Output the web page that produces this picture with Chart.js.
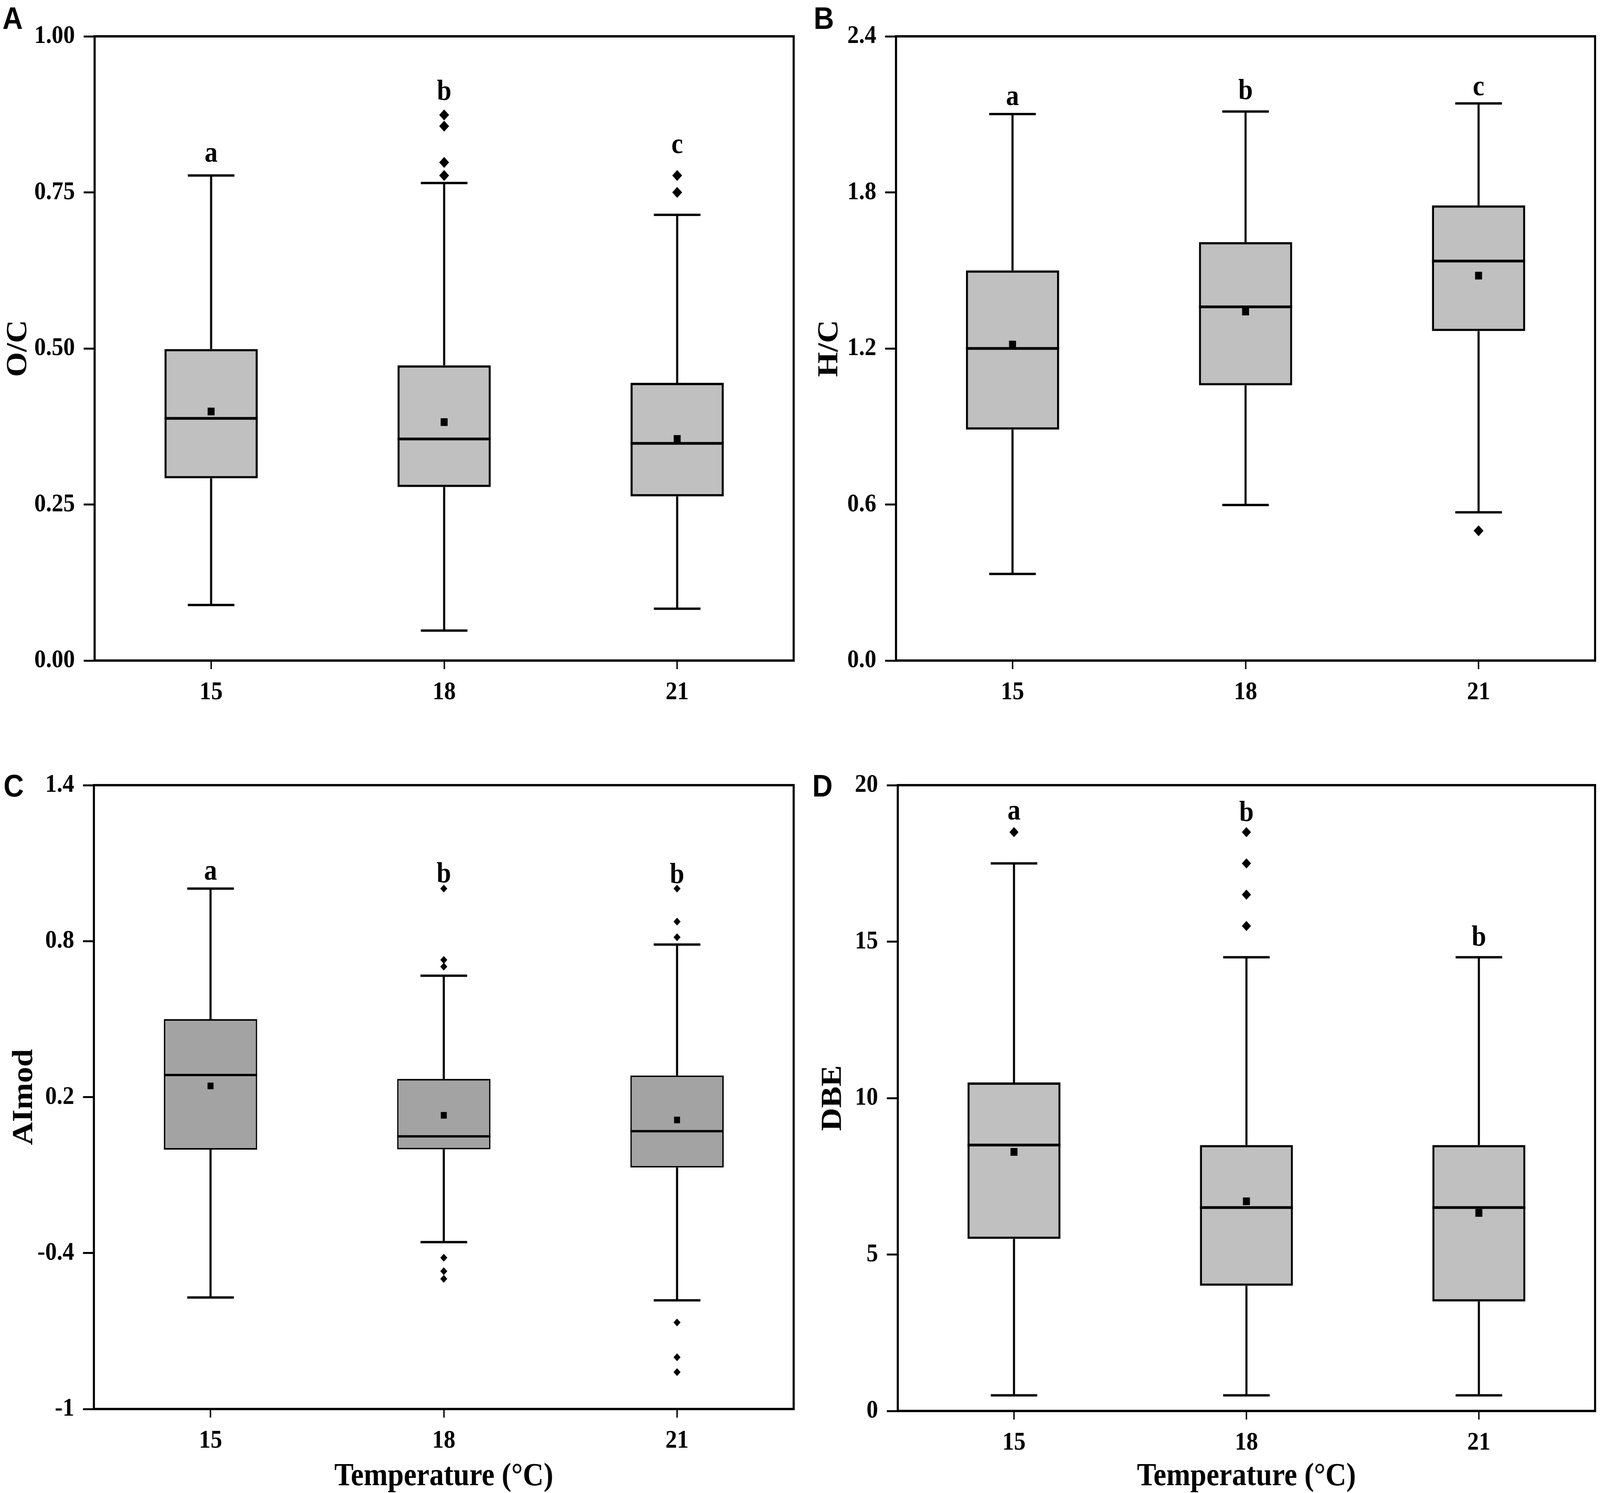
<!DOCTYPE html>
<html>
<head>
<meta charset="utf-8">
<script src="https://cdn.jsdelivr.net/npm/chart.js@4.4.1/dist/chart.umd.min.js"></script>
<style>
  html, body { margin: 0; padding: 0; background: #fff; overflow: hidden; }
  #page { position: relative; width: 4550px; height: 3822px; overflow: hidden; background: #fff; transform-origin: 0 0; }
  #page canvas { position: absolute; }
  .tag { position: absolute; font: bold 80px "Liberation Sans", Arial, sans-serif; line-height: 80px; color: #000; }
</style>
</head>
<body>
<div id="page">
  <canvas id="chartA" width="2275" height="1911" style="left:0px;top:0px;width:2275px;height:1911px"></canvas>
  <canvas id="chartB" width="2275" height="1911" style="left:2275px;top:0px;width:2275px;height:1911px"></canvas>
  <canvas id="chartC" width="2275" height="1911" style="left:0px;top:1911px;width:2275px;height:1911px"></canvas>
  <canvas id="chartD" width="2275" height="1911" style="left:2275px;top:1911px;width:2275px;height:1911px"></canvas>
  <div class="tag" style="left:7px;top:7px">A</div>
  <div class="tag" style="left:2314px;top:7px">B</div>
  <div class="tag" style="left:10px;top:1972px">C</div>
  <div class="tag" style="left:2310px;top:1972px">D</div>
</div>
<script>
const temps = ['15', '18', '21'];

// O/C
const ocLow = [0.089, 0.048, 0.083];
const ocQ1 = [0.292, 0.278, 0.263];
const ocMedian = [0.388, 0.355, 0.348];
const ocQ3 = [0.499, 0.473, 0.445];
const ocHigh = [0.777, 0.765, 0.714];
const ocMean = [0.399, 0.382, 0.355];
const ocOutliers = [[], [0.874, 0.856, 0.798, 0.777], [0.777, 0.750]];
const ocLetters = ['a', 'b', 'c'];
const ocLetterY = [0.799, 0.898, 0.813];
const ocTicks = [0, 0.25, 0.5, 0.75, 1.0];
const ocTickLabels = ['0.00', '0.25', '0.50', '0.75', '1.00'];

// H/C
const hcLow = [0.333, 0.598, 0.570];
const hcQ1 = [0.888, 1.058, 1.267];
const hcMedian = [1.200, 1.360, 1.536];
const hcQ3 = [1.500, 1.609, 1.750];
const hcHigh = [2.101, 2.111, 2.142];
const hcMean = [1.215, 1.342, 1.480];
const hcOutliers = [[], [], [0.499]];
const hcLetters = ['a', 'b', 'c'];
const hcLetterY = [2.136, 2.158, 2.173];
const hcTicks = [0, 0.6, 1.2, 1.8, 2.4];
const hcTickLabels = ['0.0', '0.6', '1.2', '1.8', '2.4'];

// AImod
const aiLow = [-0.571, -0.358, -0.582];
const aiQ1 = [-0.002, -0.001, -0.071];
const aiMedian = [0.285, 0.049, 0.069];
const aiQ3 = [0.500, 0.270, 0.283];
const aiHigh = [1.002, 0.667, 0.787];
const aiMean = [0.243, 0.130, 0.112];
const aiOutliers = [[], [1.002, 0.728, 0.702, -0.418, -0.470, -0.499], [1.002, 0.875, 0.815, -0.667, -0.801, -0.858]];
const aiLetters = ['a', 'b', 'b'];
const aiLetterY = [1.036, 1.026, 1.023];
const aiTicks = [-1, -0.4, 0.2, 0.8, 1.4];
const aiTickLabels = ['-1', '-0.4', '0.2', '0.8', '1.4'];

// DBE
const dbeLow = [0.5, 0.5, 0.5];
const dbeQ1 = [5.5, 4.0, 3.5];
const dbeMedian = [8.5, 6.5, 6.5];
const dbeQ3 = [10.5, 8.5, 8.5];
const dbeHigh = [17.5, 14.5, 14.5];
const dbeMean = [8.28, 6.70, 6.33];
const dbeOutliers = [[18.5], [18.5, 17.5, 16.5, 15.5], []];
const dbeLetters = ['a', 'b', 'b'];
const dbeLetterY = [18.9, 18.85, 14.87];
const dbeTicks = [0, 5, 10, 15, 20];
const dbeTickLabels = ['0', '5', '10', '15', '20'];

const serif = '"Liberation Serif", "Times New Roman", serif';

// the page is laid out at 4550x3822; stretch it onto whatever the window really is
const sx = window.innerWidth / 4550;
const sy = window.innerHeight / 3822;
document.getElementById('page').style.transform = 'scale(' + sx + ',' + sy + ')';

// whiskers, caps, medians, letters and the frame
function boxExtras(p) {
    return {
        id: 'boxExtras',
        afterDatasetsDraw(chart) {
            const ctx = chart.ctx;
            const x = chart.scales.x;
            const y = chart.scales.y;
            const catW = x.getPixelForValue(1) - x.getPixelForValue(0);
            const boxHalf = catW * 0.2;
            const capHalf = catW * 0.1;
            ctx.save();
            ctx.strokeStyle = '#000';
            ctx.lineCap = 'butt';
            temps.forEach(function (t, i) {
                const cx = x.getPixelForValue(i);
                ctx.lineWidth = 6;
                ctx.beginPath();
                ctx.moveTo(cx, y.getPixelForValue(p.q3[i]));
                ctx.lineTo(cx, y.getPixelForValue(p.high[i]));
                ctx.moveTo(cx, y.getPixelForValue(p.q1[i]));
                ctx.lineTo(cx, y.getPixelForValue(p.low[i]));
                ctx.moveTo(cx - capHalf, y.getPixelForValue(p.high[i]));
                ctx.lineTo(cx + capHalf, y.getPixelForValue(p.high[i]));
                ctx.moveTo(cx - capHalf, y.getPixelForValue(p.low[i]));
                ctx.lineTo(cx + capHalf, y.getPixelForValue(p.low[i]));
                ctx.stroke();

                ctx.lineWidth = p.medianLine;
                ctx.beginPath();
                ctx.moveTo(cx - boxHalf, y.getPixelForValue(p.median[i]));
                ctx.lineTo(cx + boxHalf, y.getPixelForValue(p.median[i]));
                ctx.stroke();

                ctx.fillStyle = '#000';
                ctx.font = 'bold 74px ' + serif;
                ctx.textAlign = 'center';
                ctx.textBaseline = 'alphabetic';
                ctx.fillText(p.letters[i], cx, y.getPixelForValue(p.letterY[i]));
            });
            ctx.restore();
        },
        afterDraw(chart) {
            const a = chart.chartArea;
            const ctx = chart.ctx;
            ctx.save();
            ctx.strokeStyle = '#000';
            ctx.lineWidth = 6;
            ctx.strokeRect(a.left, a.top, a.right - a.left, a.bottom - a.top);
            ctx.restore();
        }
    };
}

function makeBoxChart(id, p) {
    const outlierPoints = temps.flatMap(function (t, i) {
        return p.outliers[i].map(function (v) { return { x: t, y: v }; });
    });

    return new Chart(document.getElementById(id), {
        type: 'bar',
        data: {
            labels: temps,
            datasets: [
                {
                    data: p.q1.map(function (v, i) { return [v, p.q3[i]]; }),
                    backgroundColor: p.fill,
                    borderColor: '#000',
                    borderWidth: p.boxLine,
                    borderSkipped: false,
                    barPercentage: 0.4,
                    categoryPercentage: 1,
                    order: 3
                },
                {
                    type: 'line',
                    data: p.mean,
                    showLine: false,
                    pointStyle: 'rect',
                    pointRadius: p.meanR,
                    pointBackgroundColor: '#000',
                    pointBorderWidth: 0,
                    order: 1
                },
                {
                    type: 'line',
                    data: outlierPoints,
                    showLine: false,
                    pointStyle: 'rectRot',
                    pointRadius: p.outR,
                    pointBackgroundColor: '#000',
                    pointBorderWidth: 0,
                    order: 2
                }
            ]
        },
        options: {
            responsive: false,
            animation: false,
            events: [],
            layout: { padding: { left: 0, top: p.top, right: p.right, bottom: 0 } },
            plugins: {
                legend: { display: false },
                tooltip: { enabled: false }
            },
            scales: {
                x: {
                    offset: true,
                    grid: {
                        display: true,
                        drawOnChartArea: false,
                        drawTicks: true,
                        offset: false,
                        tickLength: 22,
                        tickWidth: 4,
                        color: '#000'
                    },
                    border: { display: false },
                    ticks: {
                        color: '#000',
                        maxRotation: 0,
                        padding: 20,
                        font: { family: serif, size: 66, weight: 'bold' }
                    },
                    title: {
                        display: p.xTitle,
                        text: 'Temperature (°C)',
                        color: '#000',
                        padding: { top: 0, bottom: 0 },
                        font: { family: serif, size: 82, weight: 'bold', lineHeight: 1 }
                    },
                    afterFit: function (s) { s.height = p.xHeight; }
                },
                y: {
                    min: p.ticks[0],
                    max: p.ticks[p.ticks.length - 1],
                    afterBuildTicks: function (s) {
                        s.ticks = p.ticks.map(function (v) { return { value: v }; });
                    },
                    grid: {
                        display: true,
                        drawOnChartArea: false,
                        drawTicks: true,
                        tickLength: 31,
                        tickWidth: 5,
                        color: '#000'
                    },
                    border: { display: false },
                    ticks: {
                        color: '#000',
                        padding: 25,
                        font: { family: serif, size: 66, weight: 'bold' },
                        callback: function (value, index) { return p.tickLabels[index]; }
                    },
                    title: {
                        display: true,
                        text: p.yTitle,
                        color: '#000',
                        padding: { top: p.yTitlePad, bottom: 0 },
                        font: { family: serif, size: 82, weight: 'bold', lineHeight: 1 }
                    },
                    afterFit: function (s) { s.width = p.yWidth; }
                }
            }
        },
        plugins: [boxExtras(p)]
    });
}

makeBoxChart('chartA', {
    low: ocLow, q1: ocQ1, median: ocMedian, q3: ocQ3, high: ocHigh, mean: ocMean,
    outliers: ocOutliers, letters: ocLetters, letterY: ocLetterY,
    ticks: ocTicks, tickLabels: ocTickLabels, yTitle: 'O/C', xTitle: false,
    fill: '#c0c0c0', boxLine: 6, medianLine: 7, meanR: 14, outR: 14,
    top: 93, right: 18, yWidth: 269, xHeight: 220, yTitlePad: 12
});

makeBoxChart('chartB', {
    low: hcLow, q1: hcQ1, median: hcMedian, q3: hcQ3, high: hcHigh, mean: hcMean,
    outliers: hcOutliers, letters: hcLetters, letterY: hcLetterY,
    ticks: hcTicks, tickLabels: hcTickLabels, yTitle: 'H/C', xTitle: false,
    fill: '#c0c0c0', boxLine: 6, medianLine: 7, meanR: 14, outR: 14,
    top: 93, right: 13, yWidth: 273, xHeight: 220, yTitlePad: 44
});

makeBoxChart('chartC', {
    low: aiLow, q1: aiQ1, median: aiMedian, q3: aiQ3, high: aiHigh, mean: aiMean,
    outliers: aiOutliers, letters: aiLetters, letterY: aiLetterY,
    ticks: aiTicks, tickLabels: aiTickLabels, yTitle: 'AImod', xTitle: true,
    fill: '#a3a3a3', boxLine: 4, medianLine: 6, meanR: 12, outR: 10,
    top: 99, right: 18, yWidth: 267, xHeight: 215, yTitlePad: 29
});

makeBoxChart('chartD', {
    low: dbeLow, q1: dbeQ1, median: dbeMedian, q3: dbeQ3, high: dbeHigh, mean: dbeMean,
    outliers: dbeOutliers, letters: dbeLetters, letterY: dbeLetterY,
    ticks: dbeTicks, tickLabels: dbeTickLabels, yTitle: 'DBE', xTitle: true,
    fill: '#c0c0c0', boxLine: 6, medianLine: 7, meanR: 14, outR: 13,
    top: 99, right: 13, yWidth: 278, xHeight: 210, yTitlePad: 54
});
</script>
</body>
</html>
